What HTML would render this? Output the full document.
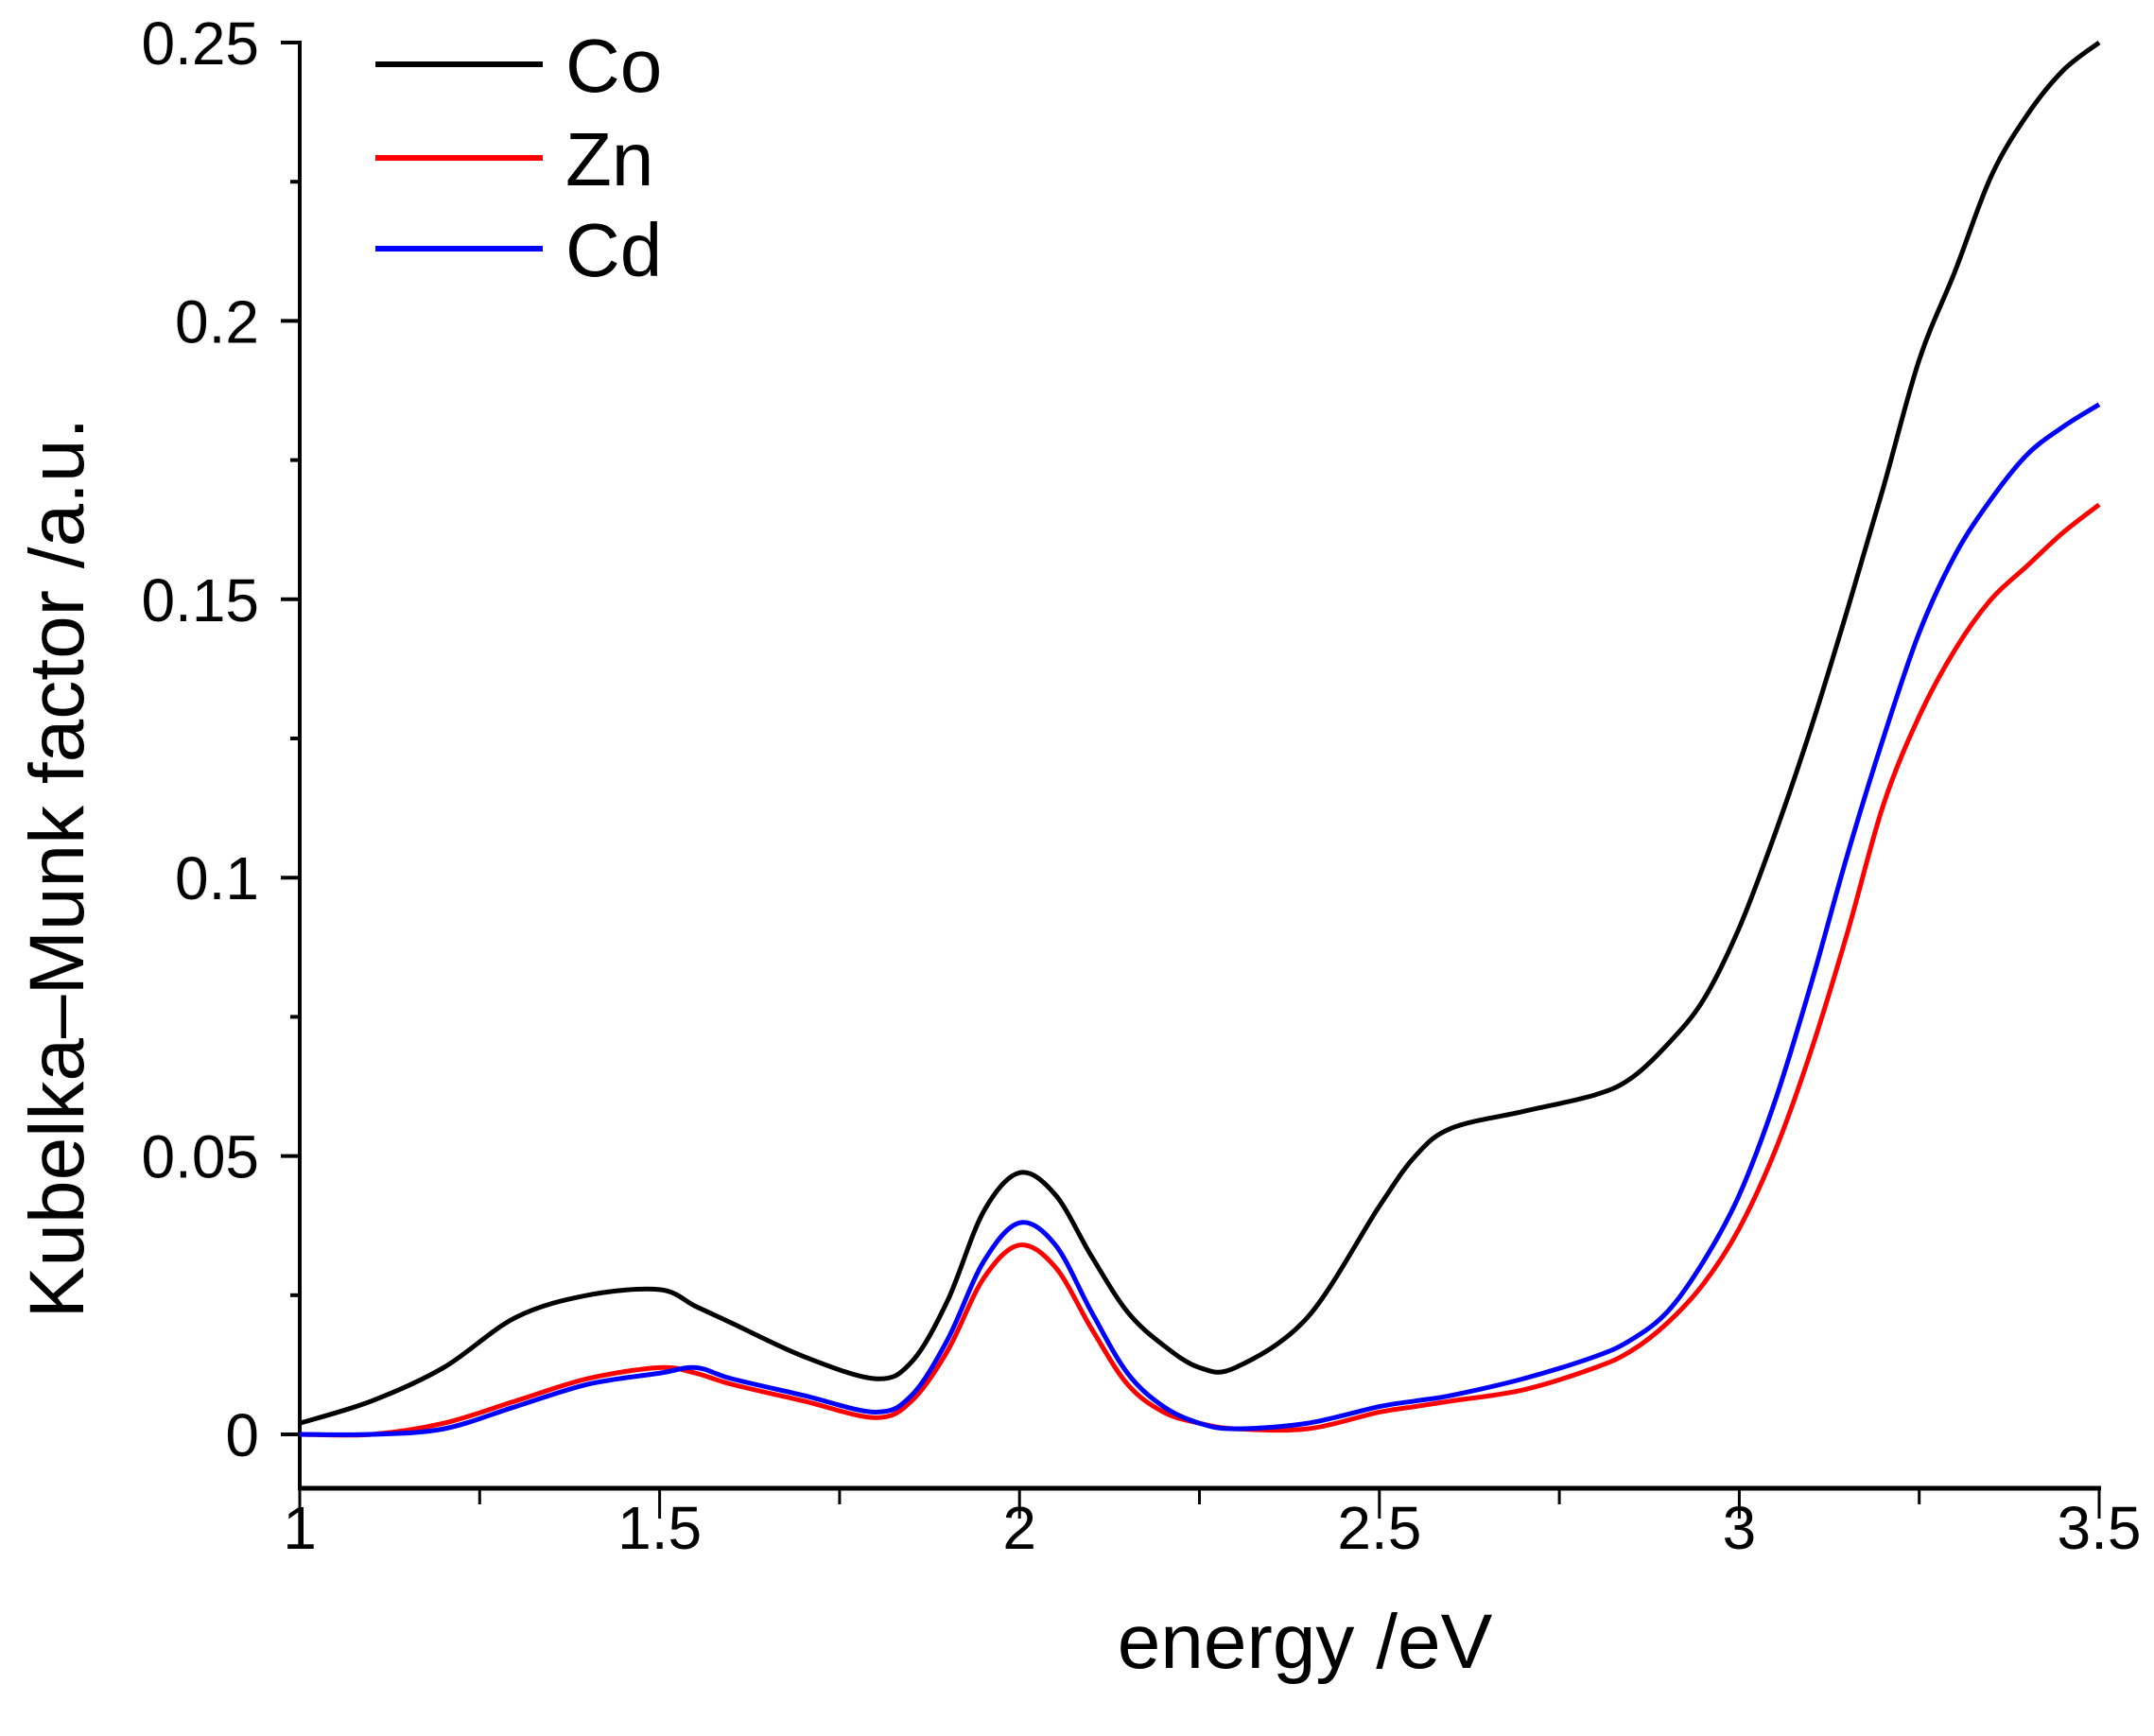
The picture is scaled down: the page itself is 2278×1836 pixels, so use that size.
<!DOCTYPE html>
<html><head><meta charset="utf-8"><style>
html,body{margin:0;padding:0;background:#fff;}
svg text{font-family:"Liberation Sans",Arial,sans-serif;fill:#000;}
</style></head><body>
<svg id="chart" width="2278" height="1831" viewBox="0 0 2278 1831" xmlns="http://www.w3.org/2000/svg">
<g id="axes"></g>
<g id="series"></g>
<text x="1380" y="1764" font-size="82" text-anchor="middle">energy /eV</text>
<text transform="translate(88,918) rotate(-90)" font-size="82" text-anchor="middle">Kubelka–Munk factor /a.u.</text>
<g id="legend"></g>
</svg>
<script>
const energy=[1.0,1.1,1.2,1.3,1.4,1.5,1.55,1.6,1.7,1.8,1.85,1.9,1.95,2.0,2.05,2.1,2.15,2.2,2.25,2.3,2.4,2.5,2.55,2.6,2.7,2.8,2.85,2.9,2.95,3.0,3.05,3.1,3.15,3.2,3.25,3.3,3.35,3.4,3.45,3.5];
const coValues=[.002,.006,.012,.021,.025,.026,.023,.020,.014,.010,.013,.024,.040,.047,.043,.032,.022,.016,.012,.012,.021,.041,.050,.055,.058,.061,.064,.070,.078,.091,.108,.127,.148,.170,.193,.209,.226,.237,.245,.250];
const znValues=[0,0,.002,.006,.010,.012,.011,.009,.006,.003,.006,.015,.028,.034,.030,.019,.009,.004,.002,.001,.001,.004,.005,.006,.008,.012,.015,.020,.027,.037,.051,.069,.090,.113,.129,.141,.150,.156,.162,.167];
const cdValues=[0,0,.001,.005,.009,.011,.012,.010,.007,.004,.007,.017,.031,.038,.034,.022,.011,.005,.002,.001,.002,.005,.006,.007,.010,.014,.017,.022,.031,.043,.060,.081,.104,.125,.144,.158,.168,.176,.181,.185];
const seriesNames=["Co","Zn","Cd"];
const xTicks=[1,1.5,2,2.5,3,3.5];
const xTickLabels=["1","1.5","2","2.5","3","3.5"];
const yTicks=[0,0.05,0.1,0.15,0.2,0.25];
const yTickLabels=["0","0.05","0.1","0.15","0.2","0.25"];

const NS="http://www.w3.org/2000/svg";
const X0=317,X1=2220,Y0=1517,Y1=45,AXB=1574;
const xs=v=>X0+(v-1)*(X1-X0)/2.5;
const ys=v=>Y0-v*(Y0-Y1)/0.25;
function mk(tag,attrs,parent){const e=document.createElementNS(NS,tag);for(const k in attrs)e.setAttribute(k,attrs[k]);parent.appendChild(e);return e;}
const axes=document.getElementById('axes');
let a=mk('line',{x1:X0,y1:Y1-2,x2:X0,y2:AXB+2,stroke:'#000','stroke-width':4},axes);


a=mk('line',{x1:X0-2,y1:AXB,x2:X1+2,y2:AXB,stroke:'#000','stroke-width':5},axes);


for(let i=0;i<=10;i++){const v=1+i*0.25;const maj=i%2===0;
 const t=mk('line',{x1:xs(v),y1:AXB,x2:xs(v),y2:AXB+(maj?32:17),stroke:'#000','stroke-width':3},axes);
 
 }
xTicks.forEach((v,i)=>{const t=mk('text',{x:xs(v),y:1638,'font-size':64,'text-anchor':'middle'},axes);t.textContent=xTickLabels[i];
 
 });
for(let i=0;i<=10;i++){const v=i*0.025;const maj=i%2===0;
 const t=mk('line',{x1:X0,y1:ys(v),x2:X0-(maj?20:10),y2:ys(v),stroke:'#000','stroke-width':4},axes);
 
 }
yTicks.forEach((v,i)=>{const t=mk('text',{x:274,y:ys(v)+23,'font-size':64,'text-anchor':'end'},axes);t.textContent=yTickLabels[i];
 
 });

function path(vals){const p=energy.map((e,i)=>[xs(e),ys(vals[i])]);let d='M'+p[0][0]+','+p[0][1];
 for(let i=0;i<p.length-1;i++){const p0=p[Math.max(0,i-1)],p1=p[i],p2=p[i+1],p3=p[Math.min(p.length-1,i+2)];
  const c1=[p1[0]+(p2[0]-p0[0])/6,p1[1]+(p2[1]-p0[1])/6],c2=[p2[0]-(p3[0]-p1[0])/6,p2[1]-(p3[1]-p1[1])/6];
  d+=' C'+c1[0]+','+c1[1]+' '+c2[0]+','+c2[1]+' '+p2[0]+','+p2[1];}
 return d;}
const sg=document.getElementById('series');
const colors=['#000','#f00','#00f'];
[znValues,cdValues,coValues].forEach((vals,k)=>{const idx=[1,2,0][k];
 const l=mk('path',{d:path(vals),fill:'none',stroke:colors[idx],'stroke-width':5,'stroke-linejoin':'round'},sg);
 
 });
const lg=document.getElementById('legend');
const ly=[68,167,263];
seriesNames.forEach((n,i)=>{
 const l=mk('line',{x1:397,y1:ly[i],x2:574,y2:ly[i],stroke:colors[i],'stroke-width':6},lg);
 
 
 const t=mk('text',{x:598,y:ly[i]+29,'font-size':80},lg);t.textContent=n;
 
 });
</script>
</body></html>
